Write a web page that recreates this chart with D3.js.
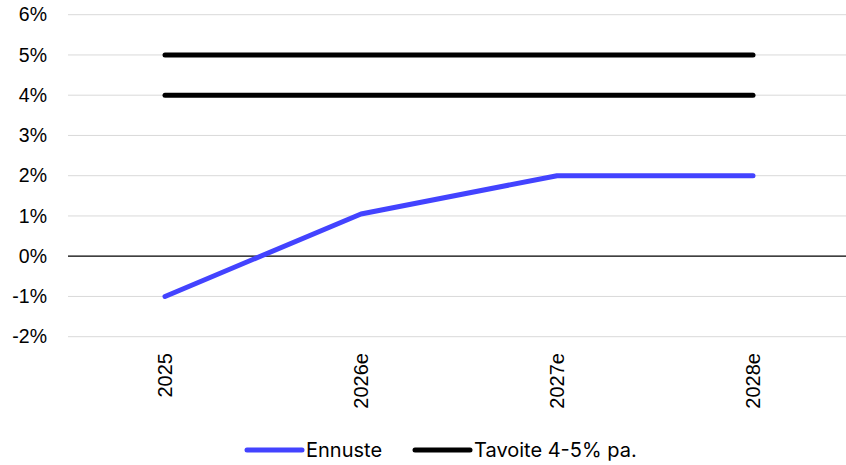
<!DOCTYPE html>
<html>
<head>
<meta charset="utf-8">
<script src="https://cdn.jsdelivr.net/npm/d3@7"></script>
<style>
  html, body { margin: 0; padding: 0; background: #fff; }
  svg { display: block; }
</style>
</head>
<body>
<svg id="chart" width="846" height="465"></svg>
<script>
// Categories and series
const years = ["2025", "2026e", "2027e", "2028e"];
const forecast = [-1.0, 1.05, 2.0, 2.0];          // Ennuste, %
const targetLow = [4, 4, 4, 4];                   // Tavoite lower bound, %
const targetHigh = [5, 5, 5, 5];                  // Tavoite upper bound, %
const yTicks = [-2, -1, 0, 1, 2, 3, 4, 5, 6];
const legendItems = [
  { label: "Ennuste", color: "#4343ff" },
  { label: "Tavoite 4-5% pa.", color: "#000000" }
];

const W = 846, H = 465;
const svg = d3.select("#chart");

const x = d3.scaleBand().domain(years).range([67, 851]);
const xc = d => x(d) + x.bandwidth() / 2;
const y = d3.scaleLinear().domain([-2, 6]).range([336.7, 14.7]);

const gridLeft = 68, gridRight = W;

// Horizontal gridlines
svg.append("g")
  .selectAll("line")
  .data(yTicks.filter(t => t !== 0))
  .join("line")
  .attr("x1", gridLeft).attr("x2", gridRight)
  .attr("y1", d => y(d)).attr("y2", d => y(d))
  .attr("stroke", "#d9d9d9").attr("stroke-width", 1);

// Zero baseline
svg.append("line")
  .attr("x1", gridLeft).attr("x2", gridRight)
  .attr("y1", y(0)).attr("y2", y(0))
  .attr("stroke", "#000").attr("stroke-width", 1.2);

// Y axis labels
const yAxis = d3.axisLeft(y).tickValues(yTicks).tickFormat(d => d + "%").tickSize(0).tickPadding(0);
const gy = svg.append("g").attr("transform", "translate(47,0)").call(yAxis);
gy.select(".domain").remove();
gy.selectAll("text")
  .attr("font-family", "'Liberation Sans', Arial, sans-serif")
  .attr("font-size", 19.5)
  .attr("fill", "#000");

// X axis labels (rotated)
const xAxis = d3.axisBottom(x).tickSize(0).tickPadding(0);
const gx = svg.append("g").attr("transform", "translate(0,353)").call(xAxis);
gx.select(".domain").remove();
gx.selectAll("text")
  .attr("font-family", "'Liberation Sans', Arial, sans-serif")
  .attr("font-size", 20)
  .attr("fill", "#000")
  .attr("text-anchor", "end")
  .attr("transform", "rotate(-90)")
  .attr("x", 0).attr("y", 0).attr("dy", "0.35em");

const line = d3.line().x((d, i) => xc(years[i])).y(d => y(d));

// Target band edges
[targetHigh, targetLow].forEach(s => {
  svg.append("path")
    .attr("d", line(s))
    .attr("fill", "none")
    .attr("stroke", legendItems[1].color)
    .attr("stroke-width", 5)
    .attr("stroke-linecap", "round")
    .attr("stroke-linejoin", "round");
});

// Forecast line
svg.append("path")
  .attr("d", line(forecast))
  .attr("fill", "none")
  .attr("stroke", legendItems[0].color)
  .attr("stroke-width", 5)
  .attr("stroke-linecap", "round")
  .attr("stroke-linejoin", "round");

// Legend
const legendPos = [247, 415];
const lg = svg.append("g");
legendItems.forEach((item, i) => {
  const x0 = legendPos[i];
  lg.append("line")
    .attr("x1", x0).attr("x2", x0 + 55)
    .attr("y1", 450).attr("y2", 450)
    .attr("stroke", item.color).attr("stroke-width", 5)
    .attr("stroke-linecap", "round");
  lg.append("text")
    .attr("x", x0 + 59).attr("y", 457)
    .attr("font-family", "Inter, 'Noto Sans', sans-serif")
    .attr("font-size", 20)
    .attr("fill", "#000")
    .text(item.label);
});
</script>
</body>
</html>
